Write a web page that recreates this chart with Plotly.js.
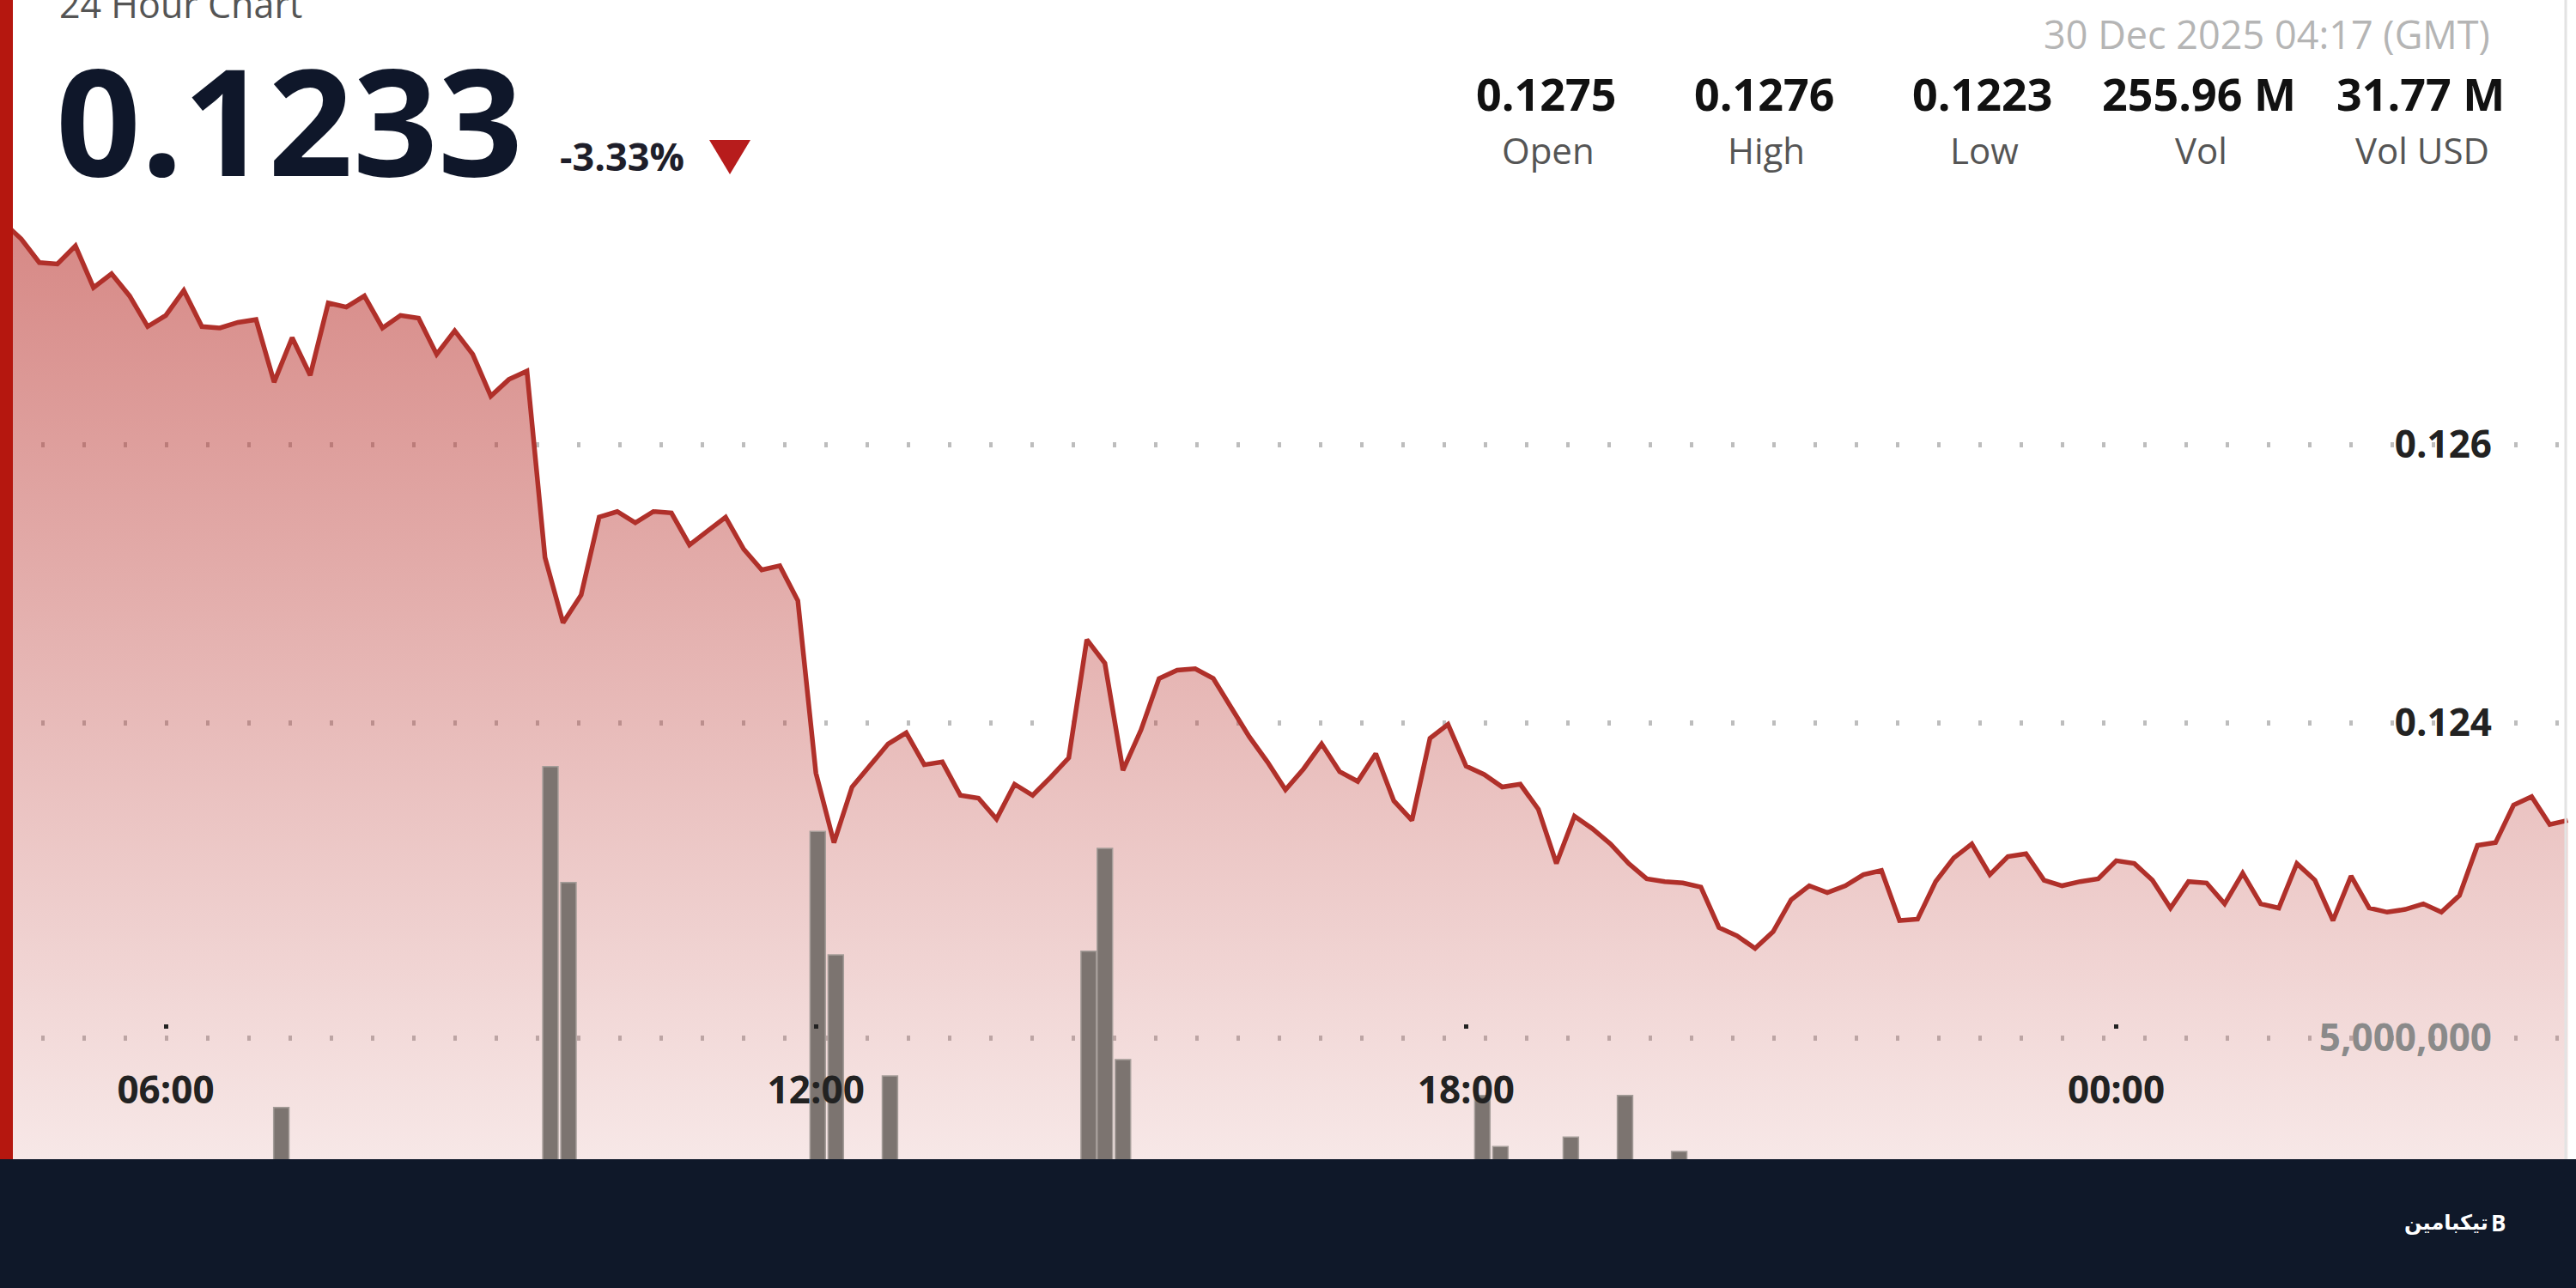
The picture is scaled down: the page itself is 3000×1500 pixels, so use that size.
<!DOCTYPE html>
<html>
<head>
<meta charset="utf-8">
<script src="https://cdn.plot.ly/plotly-3.0.1.min.js"></script>
<style>
html,body{margin:0;padding:0;background:#fff;}
#chart{width:3000px;height:1500px;}
</style>
</head>
<body>
<div id="chart"></div>
<script>
// ---- data ----
const startTime = '2025-12-29T04:20:00Z';   // first price sample
const stepMinutes = 10;
const prices = [
0.12750,0.12760,0.12748,0.12731,0.12730,0.12743,0.12713,0.12723,0.12707,0.12685,
0.12693,0.12711,0.12685,0.12684,0.12688,0.12690,0.12645,0.12677,0.12650,0.12702,
0.12699,0.12707,0.12684,0.12693,0.12691,0.12665,0.12682,0.12665,0.12635,0.12647,
0.12653,0.12519,0.12472,0.12492,0.12548,0.12552,0.12544,0.12552,0.12551,0.12528,
0.12538,0.12548,0.12525,0.12510,0.12513,0.12488,0.12364,0.12314,0.12354,0.12369,
0.12385,0.12393,0.12370,0.12372,0.12348,0.12346,0.12331,0.12356,0.12348,0.12361,
0.12375,0.12460,0.12443,0.12366,0.12395,0.12432,0.12438,0.12439,0.12432,0.12411,
0.12390,0.12372,0.12352,0.12367,0.12385,0.12365,0.12358,0.12378,0.12344,0.12330,
0.12389,0.12399,0.12369,0.12363,0.12354,0.12356,0.12338,0.12299,0.12333,0.12324,
0.12313,0.12299,0.12288,0.12286,0.12285,0.12282,0.12253,0.12247,0.12238,0.12250,
0.12273,0.12283,0.12278,0.12283,0.12291,0.12294,0.12258,0.12259,0.12286,0.12303,
0.12313,0.12291,0.12304,0.12306,0.12287,0.12283,0.12286,0.12288,0.12301,0.12299,
0.12287,0.12267,0.12286,0.12285,0.12270,0.12292,0.12270,0.12267,0.12299,0.12287,
0.12258,0.12290,0.12267,0.12264,0.12266,0.12270,0.12264,0.12276,0.12312,0.12314,
0.12341,0.12347,0.12327,0.12330
];
const volTimes = ['2025-12-29 07:04','2025-12-29 09:33','2025-12-29 09:43','2025-12-29 12:01',
  '2025-12-29 12:11','2025-12-29 12:41','2025-12-29 14:31','2025-12-29 14:40','2025-12-29 14:50',
  '2025-12-29 18:09','2025-12-29 18:19','2025-12-29 18:58','2025-12-29 19:28','2025-12-29 19:58'];
const volumes = [3.90e6,9.31e6,7.47e6,8.28e6,6.32e6,4.40e6,6.38e6,8.01e6,4.66e6,4.09e6,3.28e6,3.43e6,4.09e6,3.20e6];

const priceTicks = [0.124, 0.126];
const priceTickText = ['0.124', '0.126'];
const volTicks = [5e6];
const volTickText = ['5,000,000'];

const headerTitle = '24 Hour Chart';
const lastPrice = '0.1233';
const changePct = '-3.33%';
const stamp = '30 Dec 2025 04:17 (GMT)';
const statValues = ['0.1275','0.1276','0.1223','255.96 M','31.77 M'];
const statLabels = ['Open','High','Low','Vol','Vol USD'];
const brand = 'تیکبامین';

// ---- build times ----
const t0 = Date.parse(startTime);
const times = prices.map((_, i) => new Date(t0 + i * stepMinutes * 60000).toISOString().slice(0,16).replace('T',' '));

const FONT = '"Open Sans", "Noto Sans", sans-serif';
const W = 3000, H = 1500;
const px = x => x / W;
const py = y => 1 - y / H;

const priceTrace = {
  type: 'scatter', mode: 'lines', x: times, y: prices,
  line: {color: '#b0302a', width: 5.5},
  fill: 'tozeroy',
  fillgradient: {type: 'vertical', start: 0.11994, stop: 0.1276,
    colorscale: [[0, 'rgba(185,50,45,0.05)'], [1, 'rgba(185,50,45,0.58)']]},
  xaxis: 'x', yaxis: 'y', hoverinfo: 'skip'
};
const volTrace = {
  type: 'bar', x: volTimes, y: volumes, width: 510000,
  marker: {color: '#7c7470', line: {color: '#a59d99', width: 1.5}},
  xaxis: 'x', yaxis: 'y2', hoverinfo: 'skip'
};

const statX = [1801, 2055, 2309, 2561, 2819];
const annotations = [
  {text: headerTitle, x: px(67), y: py(5), xanchor: 'left', yanchor: 'middle', font: {family: FONT, size: 43, color: '#555'}},
  {text: lastPrice, x: px(63), y: py(138), xanchor: 'left', yanchor: 'middle', font: {family: FONT, size: 173, color: '#0f172a', weight: 700}},
  {text: changePct, x: px(650), y: py(182), xanchor: 'left', yanchor: 'middle', font: {family: FONT, size: 45, color: '#1e1e2a', weight: 700}},
  {text: stamp, x: px(2902), y: py(40), xanchor: 'right', yanchor: 'middle', font: {family: FONT, size: 45, color: '#b5b5b5'}},
  {text: brand, x: px(2900), y: py(1424), xanchor: 'right', yanchor: 'middle', font: {family: '"DejaVu Sans", sans-serif', size: 24, color: '#ffffff', weight: 700}},
  {text: 'B', x: px(2899), y: py(1424), xanchor: 'left', yanchor: 'middle', font: {family: FONT, size: 26, color: '#ffffff', weight: 700}}
];
statValues.forEach((v, i) => annotations.push({text: v, x: px(statX[i]), y: py(109), xanchor: 'center', yanchor: 'middle', font: {family: FONT, size: 52, color: '#111', weight: 700}}));
statLabels.forEach((v, i) => annotations.push({text: v, x: px(statX[i] + 2), y: py(174), xanchor: 'center', yanchor: 'middle', font: {family: FONT, size: 42, color: '#555'}}));
annotations.forEach(a => { a.xref = 'paper'; a.yref = 'paper'; a.showarrow = false; });

const shapes = [
  {type: 'path', xref: 'paper', yref: 'paper', path: `M ${px(826)},${py(163)} L ${px(874)},${py(163)} L ${px(850)},${py(203)} Z`, fillcolor: '#b71c1c', line: {width: 0}},
  {type: 'line', xref: 'paper', yref: 'paper', x0: px(2988), x1: px(2988), y0: py(1350), y1: 1, line: {color: '#e3e3e3', width: 3}, layer: 'above'},
  {type: 'rect', xref: 'paper', yref: 'paper', x0: 0, x1: px(15), y0: py(1350), y1: 1, fillcolor: '#b5170f', line: {width: 0}, layer: 'above'},
  {type: 'rect', xref: 'paper', yref: 'paper', x0: 0, x1: 1, y0: 0, y1: py(1350), fillcolor: '#0f1829', line: {width: 0}, layer: 'above'}
];

const layout = {
  width: W, height: H,
  margin: {l: 0, r: 0, t: 0, b: 0, pad: 0},
  paper_bgcolor: '#ffffff', plot_bgcolor: '#ffffff',
  showlegend: false, hovermode: false,
  xaxis: {
    type: 'date', domain: [0, 1],
    range: ['2025-12-29 04:28:14', '2025-12-30 04:14:33'],
    tick0: '2025-12-29 00:00', dtick: 6 * 3600 * 1000, tickformat: '%H:%M',
    showgrid: false, zeroline: false, showline: false,
    ticks: 'outside', ticklen: 5, tickwidth: 5, tickcolor: '#222',
    anchor: 'free', position: py(1192),
    ticklabelstandoff: 34,
    tickfont: {family: FONT, size: 44, color: '#222', weight: 700}
  },
  yaxis: {
    domain: [0, 1], range: [0.1199383, 0.1291975],
    tickvals: priceTicks, ticktext: priceTickText,
    side: 'right', anchor: 'free', position: px(2905), ticklabelposition: 'inside',
    ticks: '', showline: false, zeroline: false,
    showgrid: true, gridcolor: '#bdbdbd', gridwidth: 6, griddash: '4px,44px',
    tickfont: {family: FONT, size: 44, color: '#222', weight: 700}
  },
  yaxis2: {
    overlaying: 'y', range: [1.0354e6, 2.14714e7],
    tickvals: volTicks, ticktext: volTickText,
    side: 'right', anchor: 'free', position: px(2905), ticklabelposition: 'inside',
    ticks: '', showline: false, zeroline: false,
    showgrid: true, gridcolor: '#bdbdbd', gridwidth: 6, griddash: '4px,44px',
    tickfont: {family: FONT, size: 44, color: '#8a8a8a', weight: 700}
  },
  annotations: annotations,
  shapes: shapes
};

Plotly.newPlot('chart', [priceTrace, volTrace], layout, {staticPlot: true, displayModeBar: false});
</script>
</body>
</html>
